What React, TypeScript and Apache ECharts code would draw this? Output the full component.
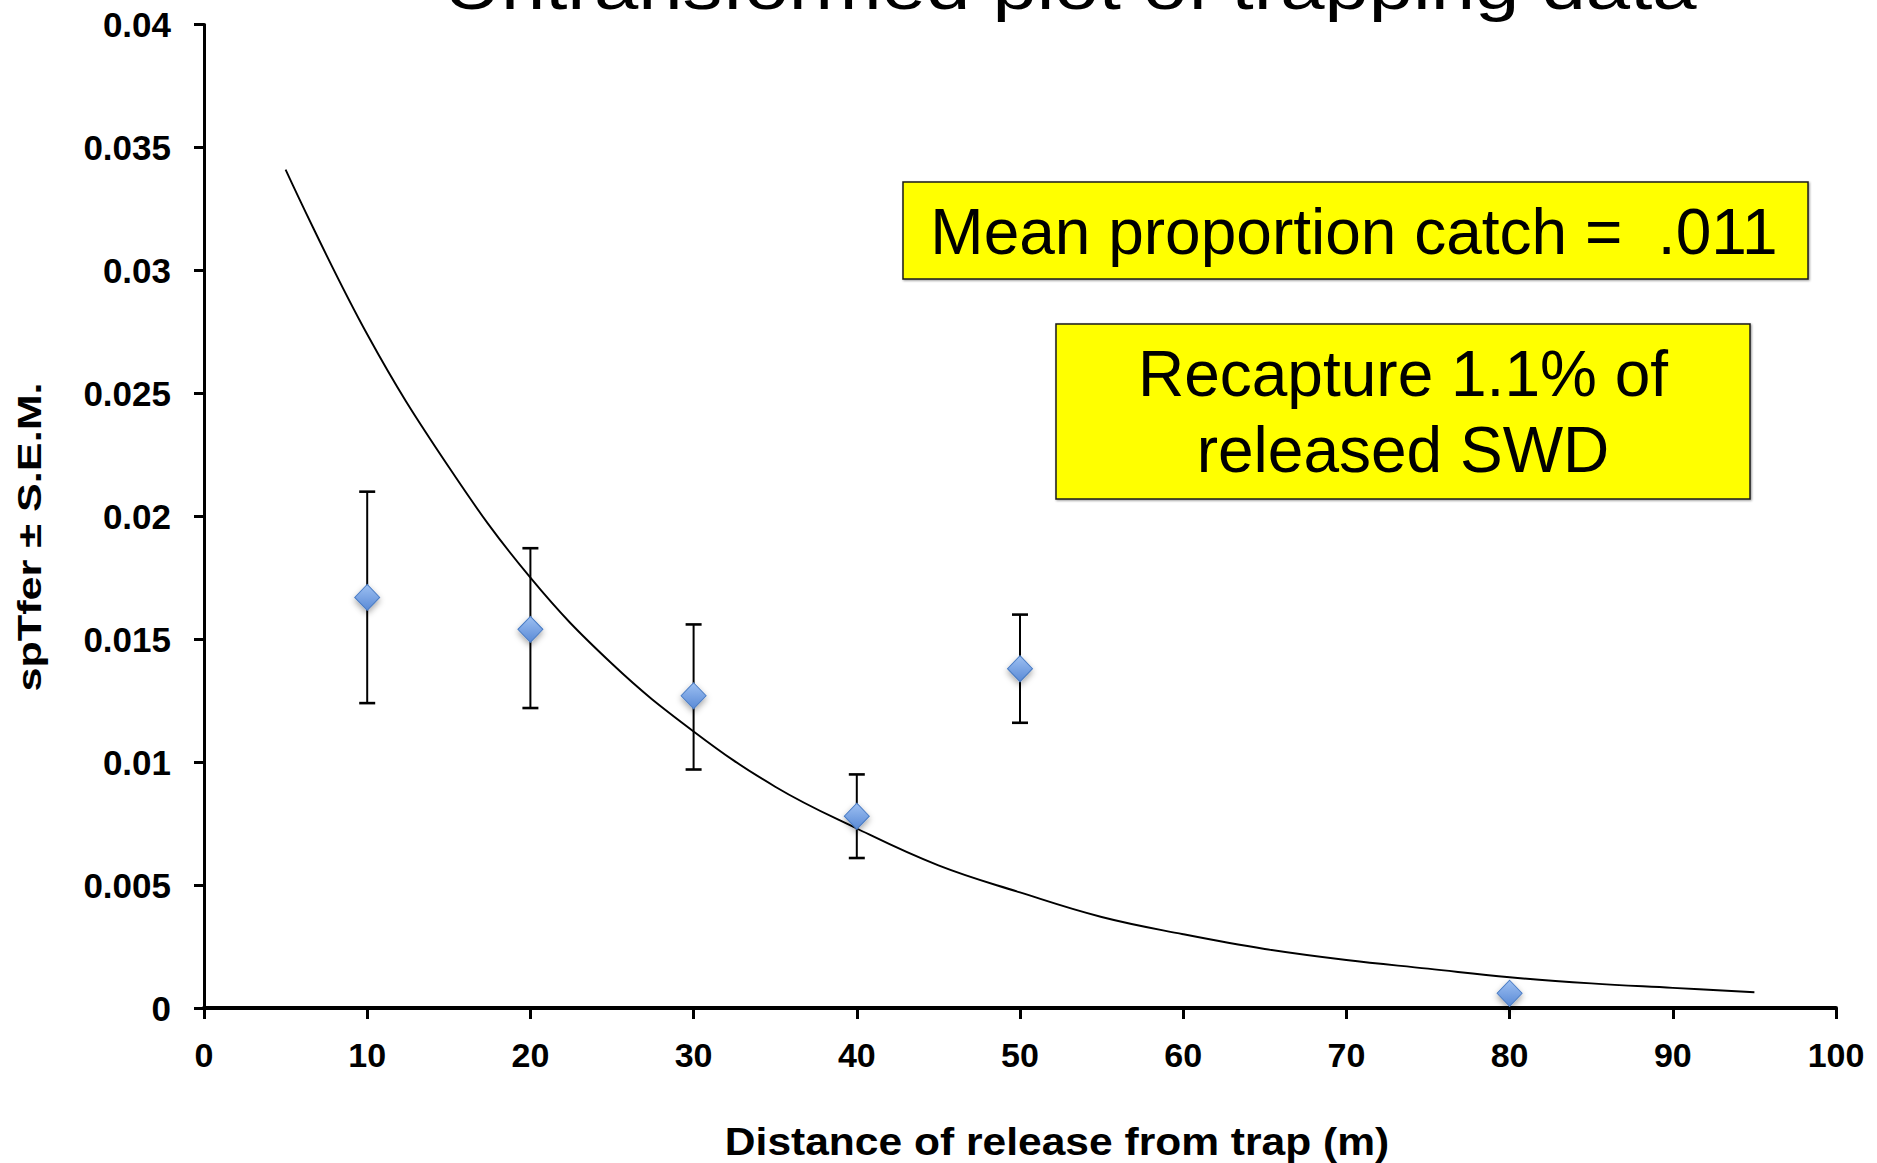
import React, { useEffect, useRef } from "react";
import * as echarts from "echarts";

// Release distances (m) and the mean proportion of released flies caught at each
const distances = [10, 20, 30, 40, 50, 80];
const meanCatch = [0.0167, 0.0154, 0.0127, 0.0078, 0.0138, 0.0006];
// Lower / upper ends of the ± S.E.M. bars
const semLow = [0.0124, 0.0122, 0.0097, 0.0061, 0.0116, 0.0006];
const semHigh = [0.021, 0.0187, 0.0156, 0.0095, 0.016, 0.0006];

// Fitted decay curve, sampled along the distance axis
const fitX = [5, 10, 15, 20, 25, 30, 35, 40, 45, 50, 55, 60, 65, 70, 75, 80, 85, 90, 95];
const fitY = [
  0.0341, 0.0274, 0.022, 0.0175, 0.014, 0.01125, 0.009, 0.0073, 0.0058, 0.0047,
  0.0037, 0.003, 0.0024, 0.00195, 0.0016, 0.00125, 0.001, 0.00082, 0.00064,
];

const titleText = "Untransformed plot of trapping data";
const xAxisTitle = "Distance of release from trap (m)";
const yAxisTitle = "spTfer ± S.E.M.";
const noteMean = "Mean proportion catch =\u00a0 .011";
const noteRecaptureLines = ["Recapture 1.1% of", "released SWD"];

const SANS = "'Liberation Sans', Arial, sans-serif";

export default function App() {
  const ref = useRef<HTMLDivElement>(null);

  useEffect(() => {
    if (!ref.current) return;
    const chart = echarts.init(ref.current, undefined, { renderer: "svg" });

    const errData = distances.map((d, i) => [d, semLow[i], semHigh[i]]);

    const option: any = {
      animation: false,
      backgroundColor: "#ffffff",
      grid: { left: 204, right: 41, top: 24.5, bottom: 155, containLabel: false },
      xAxis: {
        type: "value",
        min: 0,
        max: 100,
        interval: 10,
        axisLine: { show: true, onZero: false, lineStyle: { color: "#000", width: 4 } },
        axisTick: { show: true, length: 11, lineStyle: { color: "#000", width: 3 } },
        splitLine: { show: false },
        axisLabel: {
          margin: 30,
          color: "#000",
          fontFamily: SANS,
          fontWeight: "bold",
          fontSize: 34,
        },
      },
      yAxis: {
        type: "value",
        min: 0,
        max: 0.04,
        interval: 0.005,
        axisLine: { show: true, onZero: false, lineStyle: { color: "#000", width: 3 } },
        axisTick: { show: true, length: 10, lineStyle: { color: "#000", width: 3 } },
        splitLine: { show: false },
        axisLabel: {
          margin: 33,
          color: "#000",
          fontFamily: SANS,
          fontWeight: "bold",
          fontSize: 35,
          formatter: (v: number) => String(+v.toFixed(3)),
        },
      },
      series: [
        {
          type: "line",
          data: fitX.map((x, i) => [x, fitY[i]]),
          smooth: 0.4,
          showSymbol: false,
          symbol: "none",
          lineStyle: { color: "#000", width: 1.9 },
          z: 2,
          silent: true,
        },
        {
          type: "custom",
          data: errData,
          z: 3,
          renderItem: (params: any, api: any) => {
            const x = api.value(0);
            const lo = api.value(1);
            const hi = api.value(2);
            if (!(hi > lo)) return { type: "group", children: [] };
            const pLo = api.coord([x, lo]);
            const pHi = api.coord([x, hi]);
            const w = 8;
            const bar = { stroke: "#000", lineWidth: 2 };
            const cap = { stroke: "#000", lineWidth: 2.6 };
            return {
              type: "group",
              children: [
                { type: "line", shape: { x1: pLo[0], y1: pLo[1], x2: pHi[0], y2: pHi[1] }, style: bar },
                { type: "line", shape: { x1: pHi[0] - w, y1: pHi[1], x2: pHi[0] + w, y2: pHi[1] }, style: cap },
                { type: "line", shape: { x1: pLo[0] - w, y1: pLo[1], x2: pLo[0] + w, y2: pLo[1] }, style: cap },
              ],
            };
          },
        },
        {
          type: "scatter",
          data: distances.map((d, i) => [d, meanCatch[i]]),
          symbol: "diamond",
          symbolSize: [25, 26],
          z: 5,
          itemStyle: {
            color: new echarts.graphic.LinearGradient(0, 0, 0, 1, [
              { offset: 0, color: "#9DC0F2" },
              { offset: 1, color: "#5A8AD6" },
            ]),
            borderColor: "#4A7CC4",
            borderWidth: 1,
            shadowBlur: 6,
            shadowOffsetY: 3,
            shadowColor: "rgba(0,0,0,0.35)",
            opacity: 1,
          },
        },
      ],
      graphic: [
        {
          type: "text",
          x: 1070,
          y: -13,
          scaleX: 1.245,
          style: {
            text: titleText,
            font: `64px ${SANS}`,
            fill: "#000",
            align: "center",
            verticalAlign: "middle",
          },
        },
        {
          type: "text",
          x: 29,
          y: 537,
          rotation: Math.PI / 2,
          scaleX: 1.27,
          style: {
            text: yAxisTitle,
            font: `bold 34px ${SANS}`,
            fill: "#000",
            align: "center",
            verticalAlign: "middle",
          },
        },
        {
          type: "text",
          x: 1057,
          y: 1142,
          scaleX: 1.12,
          style: {
            text: xAxisTitle,
            font: `bold 38px ${SANS}`,
            fill: "#000",
            align: "center",
            verticalAlign: "middle",
          },
        },
        {
          type: "rect",
          shape: { x: 903, y: 182, width: 905, height: 97 },
          style: {
            fill: "#FFFF00",
            stroke: "#1a1a1a",
            lineWidth: 1.5,
            shadowBlur: 2,
            shadowOffsetX: 1,
            shadowOffsetY: 1,
            shadowColor: "rgba(0,0,0,0.4)",
          },
        },
        {
          type: "text",
          x: 1354,
          y: 232,
          style: {
            text: noteMean,
            font: `64px ${SANS}`,
            fill: "#000",
            align: "center",
            verticalAlign: "middle",
          },
        },
        {
          type: "rect",
          shape: { x: 1056, y: 324, width: 694, height: 175 },
          style: {
            fill: "#FFFF00",
            stroke: "#1a1a1a",
            lineWidth: 1.5,
            shadowBlur: 2,
            shadowOffsetX: 1,
            shadowOffsetY: 1,
            shadowColor: "rgba(0,0,0,0.4)",
          },
        },
        {
          type: "text",
          x: 1403,
          y: 374,
          style: {
            text: noteRecaptureLines[0],
            font: `64px ${SANS}`,
            fill: "#000",
            align: "center",
            verticalAlign: "middle",
          },
        },
        {
          type: "text",
          x: 1403,
          y: 450,
          style: {
            text: noteRecaptureLines[1],
            font: `64px ${SANS}`,
            fill: "#000",
            align: "center",
            verticalAlign: "middle",
          },
        },
      ],
    };

    chart.setOption(option);
    return () => chart.dispose();
  }, []);

  return (
    <div
      ref={ref}
      style={{ position: "absolute", left: 0, top: 0, width: 1877, height: 1163, background: "#fff" }}
    />
  );
}
